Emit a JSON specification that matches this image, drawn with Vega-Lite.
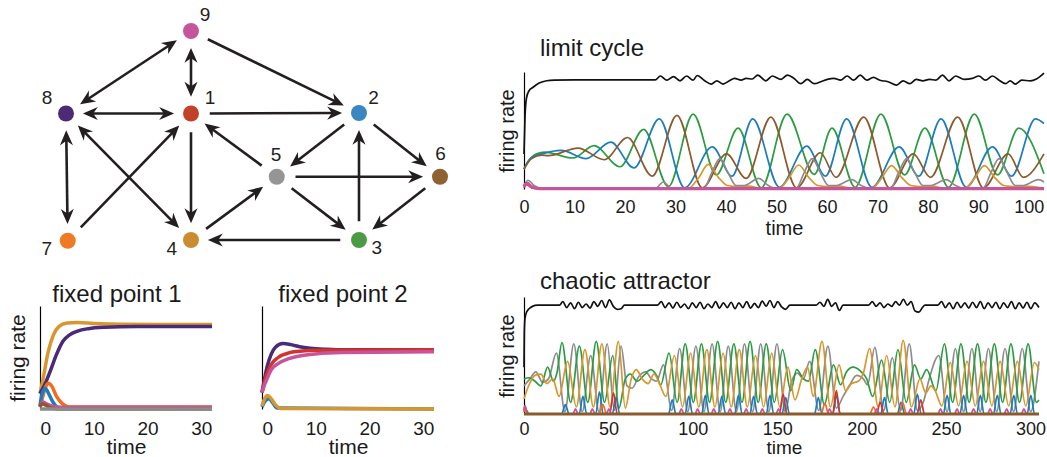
{
"$schema":"https://vega.github.io/schema/vega-lite/v6.json",
"background":"white",
"padding":{"left":6,"top":5,"right":0,"bottom":0},
"config":{"font":"Liberation Sans","view":{"stroke":"transparent"},"title":{"fontWeight":"normal","color":"#1a1a1a","font":"Liberation Sans"},"axis":{"labelFont":"Liberation Sans","titleFont":"Liberation Sans","labelColor":"#1a1a1a","titleColor":"#1a1a1a","titleFontWeight":"normal"}},
"datasets":{
"nodes":[
{"id":"9","gx":1,"gy":0,"lx":1.112,"ly":-0.128},
{"id":"8","gx":0,"gy":0.66,"lx":-0.152,"ly":0.536},
{"id":"1","gx":1,"gy":0.66,"lx":1.152,"ly":0.536},
{"id":"2","gx":2.344,"gy":0.656,"lx":2.46,"ly":0.536},
{"id":"5","gx":1.686,"gy":1.166,"lx":1.68,"ly":0.992},
{"id":"6","gx":2.992,"gy":1.166,"lx":2.997,"ly":0.984},
{"id":"7","gx":0.014,"gy":1.678,"lx":-0.154,"ly":1.746},
{"id":"4","gx":1,"gy":1.672,"lx":0.846,"ly":1.746},
{"id":"3","gx":2.344,"gy":1.672,"lx":2.486,"ly":1.738}],
"edges":[
{"s":"9","e":"8","b":true},{"s":"9","e":"1","b":true},{"s":"8","e":"1","b":true},{"s":"8","e":"7","b":true},{"s":"8","e":"4","b":true},
{"s":"9","e":"2","b":false},{"s":"1","e":"2","b":false},{"s":"1","e":"4","b":false},{"s":"5","e":"1","b":false},{"s":"2","e":"5","b":false},
{"s":"2","e":"6","b":false},{"s":"3","e":"2","b":false},{"s":"5","e":"6","b":false},{"s":"5","e":"3","b":false},{"s":"6","e":"3","b":false},
{"s":"3","e":"4","b":false},{"s":"4","e":"5","b":false},{"s":"7","e":"1","b":false}],
"fp1":[
{"n":"4","t":0,"v":0.15},{"n":"4","t":0.6,"v":0.3},{"n":"4","t":1.5,"v":0.55},{"n":"4","t":2.5,"v":0.72},{"n":"4","t":3.5,"v":0.8},{"n":"4","t":5,"v":0.835},{"n":"4","t":7,"v":0.84},{"n":"4","t":10,"v":0.83},{"n":"4","t":15,"v":0.822},{"n":"4","t":32,"v":0.82},
{"n":"8","t":0,"v":0.15},{"n":"8","t":1,"v":0.25},{"n":"8","t":2,"v":0.38},{"n":"8","t":3,"v":0.52},{"n":"8","t":4.3,"v":0.66},{"n":"8","t":5.5,"v":0.72},{"n":"8","t":7,"v":0.757},{"n":"8","t":9,"v":0.78},{"n":"8","t":12,"v":0.793},{"n":"8","t":18,"v":0.8},{"n":"8","t":32,"v":0.8},
{"n":"7","t":0,"v":0.03},{"n":"7","t":0.5,"v":0.12},{"n":"7","t":1.1,"v":0.22},{"n":"7","t":1.6,"v":0.25},{"n":"7","t":2.2,"v":0.22},{"n":"7","t":3.1,"v":0.12},{"n":"7","t":4.2,"v":0.05},{"n":"7","t":5.5,"v":0.02},{"n":"7","t":32,"v":0.02},
{"n":"2","t":0,"v":0.03},{"n":"2","t":0.4,"v":0.15},{"n":"2","t":1,"v":0.2},{"n":"2","t":1.6,"v":0.15},{"n":"2","t":2.5,"v":0.06},{"n":"2","t":3.5,"v":0.01},{"n":"2","t":32,"v":0.005},
{"n":"9","t":0,"v":0.02},{"n":"9","t":0.5,"v":0.07},{"n":"9","t":1.2,"v":0.05},{"n":"9","t":2.5,"v":0.025},{"n":"9","t":4,"v":0.018},{"n":"9","t":32,"v":0.018},
{"n":"6","t":0,"v":0.02},{"n":"6","t":0.4,"v":0.05},{"n":"6","t":1,"v":0.04},{"n":"6","t":2,"v":0.01},{"n":"6","t":4,"v":0},{"n":"6","t":32,"v":0},
{"n":"5","t":0,"v":0},{"n":"5","t":32,"v":0}],
"fp2":[
{"n":"8","t":0,"v":0.16},{"n":"8","t":0.5,"v":0.3},{"n":"8","t":1,"v":0.42},{"n":"8","t":1.7,"v":0.53},{"n":"8","t":2.5,"v":0.6},{"n":"8","t":3.9,"v":0.635},{"n":"8","t":5.4,"v":0.625},{"n":"8","t":7,"v":0.605},{"n":"8","t":9,"v":0.59},{"n":"8","t":12,"v":0.58},{"n":"8","t":16,"v":0.575},{"n":"8","t":32,"v":0.575},
{"n":"1","t":0,"v":0.16},{"n":"1","t":0.5,"v":0.27},{"n":"1","t":1,"v":0.35},{"n":"1","t":1.7,"v":0.43},{"n":"1","t":3,"v":0.5},{"n":"1","t":5,"v":0.545},{"n":"1","t":7,"v":0.56},{"n":"1","t":10,"v":0.57},{"n":"1","t":32,"v":0.575},
{"n":"9","t":0,"v":0.16},{"n":"9","t":0.5,"v":0.24},{"n":"9","t":1,"v":0.3},{"n":"9","t":1.7,"v":0.38},{"n":"9","t":3,"v":0.44},{"n":"9","t":5,"v":0.49},{"n":"9","t":7,"v":0.515},{"n":"9","t":10,"v":0.535},{"n":"9","t":15,"v":0.548},{"n":"9","t":32,"v":0.555},
{"n":"2","t":0,"v":0.02},{"n":"2","t":0.5,"v":0.07},{"n":"2","t":1.3,"v":0.1},{"n":"2","t":2,"v":0.06},{"n":"2","t":2.8,"v":0.01},{"n":"2","t":32,"v":0},
{"n":"4","t":0,"v":0.03},{"n":"4","t":0.4,"v":0.09},{"n":"4","t":1.05,"v":0.13},{"n":"4","t":1.7,"v":0.1},{"n":"4","t":2.5,"v":0.04},{"n":"4","t":3.5,"v":0.005},{"n":"4","t":32,"v":0}],
"lc":[
{"n":"0","t":0,"v":0.3},{"n":"0","t":0.2,"v":0.62},{"n":"0","t":0.5,"v":0.78},{"n":"0","t":1,"v":0.84},{"n":"0","t":1.8,"v":0.87},{"n":"0","t":3,"v":0.905},{"n":"0","t":4.5,"v":0.925},{"n":"0","t":6,"v":0.93},{"n":"0","t":10,"v":0.932},{"n":"0","t":26,"v":0.932},{"n":"0","t":27,"v":0.966},{"n":"0","t":28.3,"v":0.93},{"n":"0","t":29.6,"v":0.96},{"n":"0","t":30.9,"v":0.925},{"n":"0","t":32.2,"v":0.966},{"n":"0","t":33.5,"v":0.93},{"n":"0","t":34.3,"v":0.97},{"n":"0","t":35.8,"v":0.925},{"n":"0","t":37.1,"v":0.897},{"n":"0","t":38.2,"v":0.925},{"n":"0","t":39.4,"v":0.897},{"n":"0","t":40.7,"v":0.925},{"n":"0","t":41.7,"v":0.945},{"n":"0","t":43,"v":0.93},{"n":"0","t":44,"v":0.945},{"n":"0","t":45.2,"v":0.94},{"n":"0","t":46.3,"v":0.974},{"n":"0","t":47.9,"v":0.925},{"n":"0","t":49.2,"v":0.966},{"n":"0","t":50.9,"v":0.937},{"n":"0","t":52.2,"v":0.974},{"n":"0","t":53.5,"v":0.945},{"n":"0","t":54.8,"v":0.9},{"n":"0","t":56.1,"v":0.937},{"n":"0","t":57.5,"v":0.9},{"n":"0","t":58.8,"v":0.917},{"n":"0","t":60.1,"v":0.937},{"n":"0","t":61.4,"v":0.945},{"n":"0","t":62.7,"v":0.93},{"n":"0","t":64,"v":0.966},{"n":"0","t":65.3,"v":0.93},{"n":"0","t":66.6,"v":0.974},{"n":"0","t":67.9,"v":0.93},{"n":"0","t":69.2,"v":0.954},{"n":"0","t":70.5,"v":0.93},{"n":"0","t":72.1,"v":0.917},{"n":"0","t":73.8,"v":0.888},{"n":"0","t":75.1,"v":0.925},{"n":"0","t":76.4,"v":0.9},{"n":"0","t":77.7,"v":0.937},{"n":"0","t":79,"v":0.925},{"n":"0","t":80.3,"v":0.937},{"n":"0","t":81.6,"v":0.93},{"n":"0","t":82.9,"v":0.974},{"n":"0","t":84.2,"v":0.925},{"n":"0","t":85.5,"v":0.966},{"n":"0","t":87.2,"v":0.937},{"n":"0","t":88.8,"v":0.945},{"n":"0","t":90.1,"v":0.966},{"n":"0","t":91.4,"v":0.93},{"n":"0","t":92.8,"v":0.966},{"n":"0","t":94.1,"v":0.93},{"n":"0","t":95.4,"v":0.9},{"n":"0","t":96.3,"v":0.925},{"n":"0","t":97.3,"v":0.897},{"n":"0","t":98.6,"v":0.93},{"n":"0","t":100.3,"v":0.925},{"n":"0","t":101.5,"v":0.94},{"n":"0","t":103,"v":0.99},
{"n":"3","t":0,"v":0.17},{"n":"3","t":0.7,"v":0.23},{"n":"3","t":1.5,"v":0.27},{"n":"3","t":2.5,"v":0.3},{"n":"3","t":4.1,"v":0.315},{"n":"3","t":9.7,"v":0.265},{"n":"3","t":13.9,"v":0.37},{"n":"3","t":19,"v":0.19},{"n":"3","t":23.7,"v":0.51},{"n":"3","t":28.6,"v":0.02},{"n":"3","t":33.5,"v":0.64},{"n":"3","t":38.1,"v":0.12},{"n":"3","t":42.4,"v":0.52},{"n":"3","t":47,"v":0.01},{"n":"3","t":52.1,"v":0.64},{"n":"3","t":57.5,"v":0.125},{"n":"3","t":61,"v":0.52},{"n":"3","t":65.6,"v":0.015},{"n":"3","t":70.7,"v":0.64},{"n":"3","t":75.4,"v":0.12},{"n":"3","t":79.4,"v":0.52},{"n":"3","t":84.1,"v":0.015},{"n":"3","t":89.2,"v":0.64},{"n":"3","t":93.8,"v":0.12},{"n":"3","t":98,"v":0.52},{"n":"3","t":103,"v":0.13},
{"n":"2","t":0,"v":0.17},{"n":"2","t":0.7,"v":0.23},{"n":"2","t":1.5,"v":0.27},{"n":"2","t":3.5,"v":0.3},{"n":"2","t":7.4,"v":0.33},{"n":"2","t":12.3,"v":0.26},{"n":"2","t":17.2,"v":0.4},{"n":"2","t":21.8,"v":0.18},{"n":"2","t":26.8,"v":0.6},{"n":"2","t":31.8,"v":0.01},{"n":"2","t":37.3,"v":0.36},{"n":"2","t":41.2,"v":0.11},{"n":"2","t":45.3,"v":0.6},{"n":"2","t":50.6,"v":0.015},{"n":"2","t":56,"v":0.366},{"n":"2","t":59.7,"v":0.11},{"n":"2","t":63.9,"v":0.6},{"n":"2","t":68.9,"v":0.015},{"n":"2","t":74.3,"v":0.36},{"n":"2","t":78.2,"v":0.11},{"n":"2","t":82.6,"v":0.6},{"n":"2","t":87.6,"v":0.015},{"n":"2","t":92.8,"v":0.36},{"n":"2","t":96.6,"v":0.11},{"n":"2","t":101.3,"v":0.6},{"n":"2","t":103,"v":0.56},
{"n":"6","t":0,"v":0.17},{"n":"6","t":0.7,"v":0.22},{"n":"6","t":1.5,"v":0.26},{"n":"6","t":3.5,"v":0.29},{"n":"6","t":4.8,"v":0.285},{"n":"6","t":10.7,"v":0.35},{"n":"6","t":15.9,"v":0.25},{"n":"6","t":20.5,"v":0.44},{"n":"6","t":25.4,"v":0.11},{"n":"6","t":30.3,"v":0.63},{"n":"6","t":35.3,"v":0.01},{"n":"6","t":40.1,"v":0.3},{"n":"6","t":44,"v":0.09},{"n":"6","t":48.9,"v":0.615},{"n":"6","t":54,"v":0.01},{"n":"6","t":58.7,"v":0.31},{"n":"6","t":61.8,"v":0.1},{"n":"6","t":67.3,"v":0.615},{"n":"6","t":72.4,"v":0.01},{"n":"6","t":77.1,"v":0.3},{"n":"6","t":80.5,"v":0.1},{"n":"6","t":85.9,"v":0.615},{"n":"6","t":91,"v":0.01},{"n":"6","t":95.9,"v":0.3},{"n":"6","t":98.9,"v":0.1},{"n":"6","t":103,"v":0.3},
{"n":"4","t":0,"v":0.02},{"n":"4","t":0.8,"v":0.045},{"n":"4","t":2,"v":0.01},{"n":"4","t":4,"v":0.003},{"n":"4","t":32.5,"v":0.003},{"n":"4","t":34.5,"v":0.09},{"n":"4","t":36.5,"v":0.21},{"n":"4","t":38.5,"v":0.1},{"n":"4","t":40.3,"v":0.03},{"n":"4","t":42.5,"v":0.02},{"n":"4","t":44.5,"v":0.025},{"n":"4","t":47,"v":0.005},{"n":"4","t":50.4,"v":0.003},{"n":"4","t":52.4,"v":0.09},{"n":"4","t":54.4,"v":0.205},{"n":"4","t":56.4,"v":0.1},{"n":"4","t":58.2,"v":0.03},{"n":"4","t":60.4,"v":0.02},{"n":"4","t":62.4,"v":0.025},{"n":"4","t":65,"v":0.005},{"n":"4","t":68.8,"v":0.003},{"n":"4","t":70.8,"v":0.09},{"n":"4","t":72.8,"v":0.2},{"n":"4","t":74.8,"v":0.1},{"n":"4","t":76.6,"v":0.03},{"n":"4","t":78.8,"v":0.02},{"n":"4","t":80.8,"v":0.025},{"n":"4","t":83.4,"v":0.005},{"n":"4","t":87.2,"v":0.003},{"n":"4","t":89.2,"v":0.09},{"n":"4","t":91.2,"v":0.2},{"n":"4","t":93.2,"v":0.1},{"n":"4","t":95,"v":0.03},{"n":"4","t":97.2,"v":0.02},{"n":"4","t":99.2,"v":0.025},{"n":"4","t":103,"v":0.005},
{"n":"5","t":0,"v":0.03},{"n":"5","t":0.8,"v":0.075},{"n":"5","t":2,"v":0.03},{"n":"5","t":3.5,"v":0.005},{"n":"5","t":26,"v":0.003},{"n":"5","t":27.6,"v":0.06},{"n":"5","t":29.3,"v":0.005},{"n":"5","t":35.6,"v":0.005},{"n":"5","t":37.2,"v":0.14},{"n":"5","t":38.8,"v":0.26},{"n":"5","t":40.4,"v":0.14},{"n":"5","t":42,"v":0.03},{"n":"5","t":43.6,"v":0.03},{"n":"5","t":46.5,"v":0.09},{"n":"5","t":48.4,"v":0.03},{"n":"5","t":50,"v":0.005},{"n":"5","t":53.9,"v":0.005},{"n":"5","t":55.5,"v":0.14},{"n":"5","t":57.1,"v":0.26},{"n":"5","t":58.7,"v":0.14},{"n":"5","t":60.3,"v":0.03},{"n":"5","t":61.9,"v":0.03},{"n":"5","t":64.9,"v":0.08},{"n":"5","t":66.8,"v":0.03},{"n":"5","t":68.4,"v":0.005},{"n":"5","t":72.6,"v":0.005},{"n":"5","t":74.2,"v":0.14},{"n":"5","t":75.8,"v":0.26},{"n":"5","t":77.4,"v":0.14},{"n":"5","t":79,"v":0.03},{"n":"5","t":80.6,"v":0.03},{"n":"5","t":83.6,"v":0.08},{"n":"5","t":85.5,"v":0.03},{"n":"5","t":87.1,"v":0.005},{"n":"5","t":90.9,"v":0.005},{"n":"5","t":92.5,"v":0.14},{"n":"5","t":94.1,"v":0.26},{"n":"5","t":95.7,"v":0.14},{"n":"5","t":97.3,"v":0.03},{"n":"5","t":98.9,"v":0.03},{"n":"5","t":101.9,"v":0.08},{"n":"5","t":103,"v":0.06},
{"n":"1","t":0,"v":0.01},{"n":"1","t":0.5,"v":0.04},{"n":"1","t":1.5,"v":0.01},{"n":"1","t":3,"v":0.002},{"n":"1","t":103,"v":0.002},
{"n":"9","t":0,"v":0.02},{"n":"9","t":0.6,"v":0.05},{"n":"9","t":1.5,"v":0.02},{"n":"9","t":3,"v":0.004},{"n":"9","t":103,"v":0.004}],
"ch":[
{"n":"0","t":0,"v":0.4},{"n":"0","t":0.2,"v":0.7},{"n":"0","t":0.6,"v":0.82},{"n":"0","t":1.5,"v":0.87},{"n":"0","t":3,"v":0.9},{"n":"0","t":5,"v":0.92},{"n":"0","t":8,"v":0.93},{"n":"0","t":21,"v":0.93},
{"n":"0","t":23,"v":0.96},{"n":"0","t":25.3,"v":0.91},{"n":"0","t":27.6,"v":0.95},{"n":"0","t":29.9,"v":0.9},{"n":"0","t":32.2,"v":0.955},{"n":"0","t":34.5,"v":0.91},{"n":"0","t":36.8,"v":0.94},{"n":"0","t":39.1,"v":0.905},{"n":"0","t":41.4,"v":0.96},{"n":"0","t":43.7,"v":0.92},{"n":"0","t":46,"v":0.97},{"n":"0","t":48.3,"v":0.91},{"n":"0","t":50.6,"v":0.975},{"n":"0","t":52.9,"v":0.92},{"n":"0","t":55.2,"v":0.895},{"n":"0","t":57.5,"v":0.9},{"n":"0","t":59.5,"v":0.93},{"n":"0","t":79,"v":0.93},
{"n":"0","t":81.3,"v":0.96},{"n":"0","t":83.6,"v":0.91},{"n":"0","t":85.9,"v":0.95},{"n":"0","t":88.2,"v":0.905},{"n":"0","t":90.5,"v":0.955},{"n":"0","t":92.8,"v":0.91},{"n":"0","t":95.1,"v":0.94},{"n":"0","t":97.4,"v":0.9},{"n":"0","t":99.7,"v":0.95},{"n":"0","t":102,"v":0.91},{"n":"0","t":104.3,"v":0.955},{"n":"0","t":106.6,"v":0.9},{"n":"0","t":108.9,"v":0.94},{"n":"0","t":111.2,"v":0.91},{"n":"0","t":113.5,"v":0.96},{"n":"0","t":115.8,"v":0.905},{"n":"0","t":118.1,"v":0.95},{"n":"0","t":120.4,"v":0.91},{"n":"0","t":122.7,"v":0.955},{"n":"0","t":125,"v":0.9},{"n":"0","t":127.3,"v":0.95},{"n":"0","t":129.6,"v":0.91},{"n":"0","t":131.9,"v":0.96},{"n":"0","t":134.2,"v":0.905},{"n":"0","t":136.5,"v":0.945},{"n":"0","t":138.8,"v":0.91},{"n":"0","t":141.1,"v":0.965},{"n":"0","t":143.4,"v":0.92},{"n":"0","t":145.7,"v":0.97},{"n":"0","t":148,"v":0.91},{"n":"0","t":150.3,"v":0.96},{"n":"0","t":152.6,"v":0.915},{"n":"0","t":154.9,"v":0.895},{"n":"0","t":157.5,"v":0.93},{"n":"0","t":173,"v":0.93},
{"n":"0","t":175.3,"v":0.955},{"n":"0","t":177.6,"v":0.92},{"n":"0","t":179.9,"v":0.98},{"n":"0","t":182.2,"v":0.92},{"n":"0","t":184.5,"v":0.95},{"n":"0","t":186.8,"v":0.885},{"n":"0","t":189,"v":0.93},{"n":"0","t":204,"v":0.93},
{"n":"0","t":206.3,"v":0.96},{"n":"0","t":208.6,"v":0.92},{"n":"0","t":210.9,"v":0.95},{"n":"0","t":213.2,"v":0.91},{"n":"0","t":215.5,"v":0.94},{"n":"0","t":217.8,"v":0.92},{"n":"0","t":220.1,"v":0.96},{"n":"0","t":222.4,"v":0.93},{"n":"0","t":224.7,"v":0.98},{"n":"0","t":227,"v":0.93},{"n":"0","t":229.3,"v":0.96},{"n":"0","t":231.6,"v":0.88},{"n":"0","t":233.9,"v":0.87},{"n":"0","t":236,"v":0.91},{"n":"0","t":237.5,"v":0.93},{"n":"0","t":245,"v":0.93},
{"n":"0","t":247.3,"v":0.96},{"n":"0","t":249.6,"v":0.91},{"n":"0","t":251.9,"v":0.95},{"n":"0","t":254.2,"v":0.9},{"n":"0","t":256.5,"v":0.955},{"n":"0","t":258.8,"v":0.91},{"n":"0","t":261.1,"v":0.95},{"n":"0","t":263.4,"v":0.905},{"n":"0","t":265.7,"v":0.955},{"n":"0","t":268,"v":0.91},{"n":"0","t":270.3,"v":0.96},{"n":"0","t":272.6,"v":0.9},{"n":"0","t":274.9,"v":0.95},{"n":"0","t":277.2,"v":0.91},{"n":"0","t":279.5,"v":0.955},{"n":"0","t":281.8,"v":0.9},{"n":"0","t":284.1,"v":0.95},{"n":"0","t":286.4,"v":0.91},{"n":"0","t":288.7,"v":0.96},{"n":"0","t":291,"v":0.9},{"n":"0","t":293.3,"v":0.95},{"n":"0","t":295.6,"v":0.905},{"n":"0","t":297.9,"v":0.955},{"n":"0","t":300.2,"v":0.9},{"n":"0","t":302.5,"v":0.95},{"n":"0","t":305,"v":0.91},
{"n":"5","t":0,"v":0.24},{"n":"5","t":3.5,"v":0.3},{"n":"5","t":7,"v":0.36},{"n":"5","t":11,"v":0.27},{"n":"5","t":14.5,"v":0.3},{"n":"5","t":19.2,"v":0.52},{"n":"5","t":24.2,"v":0.02},{"n":"5","t":29.5,"v":0.6},{"n":"5","t":34.5,"v":0.02},{"n":"5","t":39.5,"v":0.5},{"n":"5","t":44.4,"v":0.02},{"n":"5","t":49.3,"v":0.6},{"n":"5","t":53.5,"v":0.03},{"n":"5","t":57.5,"v":0.58},{"n":"5","t":61,"v":0.24},{"n":"5","t":64,"v":0.22},{"n":"5","t":68,"v":0.32},{"n":"5","t":72,"v":0.36},{"n":"5","t":75.5,"v":0.3},{"n":"5","t":78.5,"v":0.28},{"n":"5","t":82.6,"v":0.42},{"n":"5","t":87.4,"v":0.03},{"n":"5","t":92.2,"v":0.56},{"n":"5","t":97,"v":0.02},{"n":"5","t":101.8,"v":0.58},{"n":"5","t":106.6,"v":0.02},{"n":"5","t":111.4,"v":0.6},{"n":"5","t":116.2,"v":0.02},{"n":"5","t":121,"v":0.58},{"n":"5","t":125.8,"v":0.02},{"n":"5","t":130.6,"v":0.6},{"n":"5","t":135.4,"v":0.02},{"n":"5","t":140.2,"v":0.6},{"n":"5","t":145,"v":0.02},{"n":"5","t":149.8,"v":0.6},{"n":"5","t":154.7,"v":0.02},{"n":"5","t":158.5,"v":0.28},{"n":"5","t":162,"v":0.35},{"n":"5","t":165.5,"v":0.3},{"n":"5","t":169.2,"v":0.45},{"n":"5","t":174.6,"v":0.03},{"n":"5","t":180,"v":0.58},{"n":"5","t":185,"v":0.05},{"n":"5","t":189,"v":0.15},{"n":"5","t":193,"v":0.25},{"n":"5","t":197,"v":0.33},{"n":"5","t":201,"v":0.3},{"n":"5","t":203.5,"v":0.25},{"n":"5","t":207.8,"v":0.57},{"n":"5","t":213,"v":0.03},{"n":"5","t":218.2,"v":0.48},{"n":"5","t":223,"v":0.03},{"n":"5","t":228.2,"v":0.6},{"n":"5","t":233,"v":0.03},{"n":"5","t":236.5,"v":0.1},{"n":"5","t":240,"v":0.3},{"n":"5","t":245.7,"v":0.5},{"n":"5","t":250.6,"v":0.02},{"n":"5","t":255.5,"v":0.56},{"n":"5","t":260.4,"v":0.02},{"n":"5","t":265.3,"v":0.56},{"n":"5","t":270.2,"v":0.02},{"n":"5","t":275.1,"v":0.56},{"n":"5","t":280,"v":0.02},{"n":"5","t":284.9,"v":0.56},{"n":"5","t":290,"v":0.02},{"n":"5","t":295.1,"v":0.56},{"n":"5","t":300.1,"v":0.02},{"n":"5","t":305,"v":0.45},
{"n":"3","t":0,"v":0.3},{"n":"3","t":3,"v":0.31},{"n":"3","t":6.5,"v":0.28},{"n":"3","t":10,"v":0.24},{"n":"3","t":14,"v":0.4},{"n":"3","t":17.5,"v":0.28},{"n":"3","t":19.5,"v":0.35},{"n":"3","t":22.5,"v":0.61},{"n":"3","t":27.6,"v":0.1},{"n":"3","t":32.8,"v":0.58},{"n":"3","t":37.8,"v":0.1},{"n":"3","t":42.8,"v":0.62},{"n":"3","t":47.7,"v":0.1},{"n":"3","t":52.6,"v":0.5},{"n":"3","t":56.2,"v":0.05},{"n":"3","t":60,"v":0.3},{"n":"3","t":63,"v":0.34},{"n":"3","t":67,"v":0.28},{"n":"3","t":71,"v":0.33},{"n":"3","t":75,"v":0.38},{"n":"3","t":78.5,"v":0.33},{"n":"3","t":81,"v":0.25},{"n":"3","t":85.9,"v":0.52},{"n":"3","t":90.7,"v":0.1},{"n":"3","t":95.5,"v":0.6},{"n":"3","t":100.3,"v":0.1},{"n":"3","t":105.1,"v":0.6},{"n":"3","t":109.9,"v":0.1},{"n":"3","t":114.7,"v":0.62},{"n":"3","t":119.5,"v":0.1},{"n":"3","t":124.3,"v":0.6},{"n":"3","t":129.1,"v":0.1},{"n":"3","t":133.9,"v":0.62},{"n":"3","t":138.7,"v":0.1},{"n":"3","t":143.5,"v":0.6},{"n":"3","t":148.3,"v":0.1},{"n":"3","t":153.1,"v":0.55},{"n":"3","t":158,"v":0.2},{"n":"3","t":161.5,"v":0.38},{"n":"3","t":165.5,"v":0.3},{"n":"3","t":168.5,"v":0.28},{"n":"3","t":172.5,"v":0.55},{"n":"3","t":177.9,"v":0.08},{"n":"3","t":183.3,"v":0.42},{"n":"3","t":187.5,"v":0.25},{"n":"3","t":191,"v":0.36},{"n":"3","t":195,"v":0.4},{"n":"3","t":199,"v":0.37},{"n":"3","t":203,"v":0.3},{"n":"3","t":206.5,"v":0.15},{"n":"3","t":211.8,"v":0.46},{"n":"3","t":216.6,"v":0.1},{"n":"3","t":221.5,"v":0.55},{"n":"3","t":226.4,"v":0.1},{"n":"3","t":231.3,"v":0.42},{"n":"3","t":235,"v":0.3},{"n":"3","t":238.5,"v":0.38},{"n":"3","t":244,"v":0.2},{"n":"3","t":249,"v":0.6},{"n":"3","t":253.9,"v":0.1},{"n":"3","t":258.8,"v":0.6},{"n":"3","t":263.7,"v":0.1},{"n":"3","t":268.6,"v":0.6},{"n":"3","t":273.6,"v":0.1},{"n":"3","t":278.6,"v":0.6},{"n":"3","t":283.5,"v":0.1},{"n":"3","t":288.4,"v":0.6},{"n":"3","t":293.5,"v":0.1},{"n":"3","t":298.6,"v":0.6},{"n":"3","t":303.5,"v":0.1},{"n":"3","t":305,"v":0.12},
{"n":"4","t":0,"v":0.13},{"n":"4","t":3,"v":0.25},{"n":"4","t":6.5,"v":0.33},{"n":"4","t":10,"v":0.34},{"n":"4","t":13.5,"v":0.26},{"n":"4","t":17,"v":0.3},{"n":"4","t":20.8,"v":0.15},{"n":"4","t":25.8,"v":0.45},{"n":"4","t":31,"v":0.06},{"n":"4","t":36.1,"v":0.55},{"n":"4","t":41.1,"v":0.06},{"n":"4","t":46.1,"v":0.6},{"n":"4","t":51,"v":0.06},{"n":"4","t":55.9,"v":0.62},{"n":"4","t":60,"v":0.05},{"n":"4","t":63.5,"v":0.3},{"n":"4","t":66.5,"v":0.38},{"n":"4","t":70,"v":0.3},{"n":"4","t":73.5,"v":0.26},{"n":"4","t":77,"v":0.34},{"n":"4","t":80.5,"v":0.25},{"n":"4","t":84,"v":0.15},{"n":"4","t":89.1,"v":0.5},{"n":"4","t":93.9,"v":0.06},{"n":"4","t":98.7,"v":0.52},{"n":"4","t":103.5,"v":0.06},{"n":"4","t":108.3,"v":0.55},{"n":"4","t":113.1,"v":0.06},{"n":"4","t":117.9,"v":0.52},{"n":"4","t":122.7,"v":0.06},{"n":"4","t":127.5,"v":0.55},{"n":"4","t":132.3,"v":0.06},{"n":"4","t":137.1,"v":0.5},{"n":"4","t":141.9,"v":0.06},{"n":"4","t":146.7,"v":0.52},{"n":"4","t":151.5,"v":0.06},{"n":"4","t":156.3,"v":0.4},{"n":"4","t":160.5,"v":0.12},{"n":"4","t":164.5,"v":0.3},{"n":"4","t":168,"v":0.4},{"n":"4","t":171.3,"v":0.15},{"n":"4","t":176.5,"v":0.62},{"n":"4","t":181.5,"v":0.06},{"n":"4","t":186.6,"v":0.42},{"n":"4","t":190.5,"v":0.2},{"n":"4","t":194,"v":0.26},{"n":"4","t":198,"v":0.28},{"n":"4","t":201,"v":0.35},{"n":"4","t":204.7,"v":0.56},{"n":"4","t":209.8,"v":0.06},{"n":"4","t":214.8,"v":0.5},{"n":"4","t":219.7,"v":0.06},{"n":"4","t":224.6,"v":0.63},{"n":"4","t":229.5,"v":0.06},{"n":"4","t":234.5,"v":0.3},{"n":"4","t":238,"v":0.18},{"n":"4","t":241,"v":0.24},{"n":"4","t":243.5,"v":0.2},{"n":"4","t":247.5,"v":0.07},{"n":"4","t":252.5,"v":0.44},{"n":"4","t":257.4,"v":0.07},{"n":"4","t":262.4,"v":0.45},{"n":"4","t":267.3,"v":0.07},{"n":"4","t":272.2,"v":0.45},{"n":"4","t":277.1,"v":0.07},{"n":"4","t":282,"v":0.45},{"n":"4","t":287.1,"v":0.07},{"n":"4","t":292.2,"v":0.45},{"n":"4","t":297.2,"v":0.07},{"n":"4","t":302.3,"v":0.44},{"n":"4","t":305,"v":0.38},
{"n":"2","t":0,"v":0.02},{"n":"2","t":1,"v":0.04},{"n":"2","t":3,"v":0},
{"n":"2","t":22.3,"v":0},{"n":"2","t":24.5,"v":0.08},{"n":"2","t":26.7,"v":0},{"n":"2","t":32.7,"v":0},{"n":"2","t":34.9,"v":0.15},{"n":"2","t":37.1,"v":0},{"n":"2","t":42.5,"v":0},{"n":"2","t":44.7,"v":0.19},{"n":"2","t":46.9,"v":0},{"n":"2","t":52.3,"v":0},{"n":"2","t":54.5,"v":0.14},{"n":"2","t":56.7,"v":0},
{"n":"2","t":85.6,"v":0},{"n":"2","t":87.8,"v":0.12},{"n":"2","t":90,"v":0},{"n":"2","t":95.4,"v":0},{"n":"2","t":97.6,"v":0.15},{"n":"2","t":99.8,"v":0},{"n":"2","t":105.2,"v":0},{"n":"2","t":107.4,"v":0.16},{"n":"2","t":109.6,"v":0},{"n":"2","t":115,"v":0},{"n":"2","t":117.2,"v":0.15},{"n":"2","t":119.4,"v":0},{"n":"2","t":124.8,"v":0},{"n":"2","t":127,"v":0.16},{"n":"2","t":129.2,"v":0},{"n":"2","t":133.8,"v":0},{"n":"2","t":136,"v":0.15},{"n":"2","t":138.2,"v":0},{"n":"2","t":143.5,"v":0},{"n":"2","t":145.7,"v":0.16},{"n":"2","t":147.9,"v":0},{"n":"2","t":152.8,"v":0},{"n":"2","t":155,"v":0.14},{"n":"2","t":157.2,"v":0},
{"n":"2","t":172.1,"v":0},{"n":"2","t":174.3,"v":0.14},{"n":"2","t":176.5,"v":0},{"n":"2","t":182.9,"v":0},{"n":"2","t":185.1,"v":0.16},{"n":"2","t":187.3,"v":0},
{"n":"2","t":211.3,"v":0},{"n":"2","t":213.5,"v":0.14},{"n":"2","t":215.7,"v":0},{"n":"2","t":221.1,"v":0},{"n":"2","t":223.3,"v":0.1},{"n":"2","t":225.5,"v":0},{"n":"2","t":230.8,"v":0},{"n":"2","t":233,"v":0.17},{"n":"2","t":235.2,"v":0},
{"n":"2","t":248.4,"v":0},{"n":"2","t":250.6,"v":0.16},{"n":"2","t":252.8,"v":0},{"n":"2","t":258.2,"v":0},{"n":"2","t":260.4,"v":0.16},{"n":"2","t":262.6,"v":0},{"n":"2","t":268.1,"v":0},{"n":"2","t":270.3,"v":0.16},{"n":"2","t":272.5,"v":0},{"n":"2","t":278.1,"v":0},{"n":"2","t":280.3,"v":0.16},{"n":"2","t":282.5,"v":0},{"n":"2","t":287.9,"v":0},{"n":"2","t":290.1,"v":0.16},{"n":"2","t":292.3,"v":0},{"n":"2","t":298,"v":0},{"n":"2","t":300.2,"v":0.16},{"n":"2","t":302.4,"v":0},{"n":"2","t":305,"v":0},
{"n":"1","t":0,"v":0.03},{"n":"1","t":0.6,"v":0.07},{"n":"1","t":2,"v":0},{"n":"1","t":50.8,"v":0},{"n":"1","t":53,"v":0.18},{"n":"1","t":55.2,"v":0},{"n":"1","t":151.3,"v":0},{"n":"1","t":153.5,"v":0.17},{"n":"1","t":155.7,"v":0},{"n":"1","t":182.8,"v":0},{"n":"1","t":185,"v":0.2},{"n":"1","t":187.2,"v":0},{"n":"1","t":208.8,"v":0},{"n":"1","t":211,"v":0.1},{"n":"1","t":213.2,"v":0},{"n":"1","t":232.8,"v":0},{"n":"1","t":235,"v":0.12},{"n":"1","t":237.2,"v":0},{"n":"1","t":305,"v":0},
{"n":"7","t":0,"v":0.02},{"n":"7","t":0.5,"v":0.05},{"n":"7","t":2,"v":0},{"n":"7","t":44.5,"v":0},{"n":"7","t":46.7,"v":0.08},{"n":"7","t":48.9,"v":0},{"n":"7","t":176,"v":0},{"n":"7","t":178.2,"v":0.09},{"n":"7","t":180.4,"v":0},{"n":"7","t":204.8,"v":0},{"n":"7","t":207,"v":0.06},{"n":"7","t":209.2,"v":0},{"n":"7","t":222.1,"v":0},{"n":"7","t":224.3,"v":0.1},{"n":"7","t":226.5,"v":0},{"n":"7","t":305,"v":0},
{"n":"9","t":0,"v":0.04},{"n":"9","t":0.5,"v":0.07},{"n":"9","t":2,"v":0},
{"n":"9","t":29,"v":0},{"n":"9","t":30.5,"v":0.045},{"n":"9","t":32,"v":0},{"n":"9","t":39,"v":0},{"n":"9","t":40.5,"v":0.045},{"n":"9","t":42,"v":0},{"n":"9","t":48.8,"v":0},{"n":"9","t":50.3,"v":0.045},{"n":"9","t":51.8,"v":0},
{"n":"9","t":91.7,"v":0},{"n":"9","t":93.2,"v":0.045},{"n":"9","t":94.7,"v":0},{"n":"9","t":101.3,"v":0},{"n":"9","t":102.8,"v":0.045},{"n":"9","t":104.3,"v":0},{"n":"9","t":110.9,"v":0},{"n":"9","t":112.4,"v":0.045},{"n":"9","t":113.9,"v":0},{"n":"9","t":120.5,"v":0},{"n":"9","t":122,"v":0.045},{"n":"9","t":123.5,"v":0},{"n":"9","t":130.1,"v":0},{"n":"9","t":131.6,"v":0.045},{"n":"9","t":133.1,"v":0},{"n":"9","t":139.7,"v":0},{"n":"9","t":141.2,"v":0.045},{"n":"9","t":142.7,"v":0},{"n":"9","t":149.3,"v":0},{"n":"9","t":150.8,"v":0.045},{"n":"9","t":152.3,"v":0},
{"n":"9","t":179.5,"v":0},{"n":"9","t":181,"v":0.045},{"n":"9","t":182.5,"v":0},{"n":"9","t":207.5,"v":0},{"n":"9","t":209,"v":0.045},{"n":"9","t":210.5,"v":0},{"n":"9","t":227.5,"v":0},{"n":"9","t":229,"v":0.045},{"n":"9","t":230.5,"v":0},
{"n":"9","t":245.2,"v":0},{"n":"9","t":246.7,"v":0.045},{"n":"9","t":248.2,"v":0},{"n":"9","t":255,"v":0},{"n":"9","t":256.5,"v":0.045},{"n":"9","t":258,"v":0},{"n":"9","t":264.8,"v":0},{"n":"9","t":266.3,"v":0.045},{"n":"9","t":267.8,"v":0},{"n":"9","t":274.6,"v":0},{"n":"9","t":276.1,"v":0.045},{"n":"9","t":277.6,"v":0},{"n":"9","t":284.4,"v":0},{"n":"9","t":285.9,"v":0.045},{"n":"9","t":287.4,"v":0},{"n":"9","t":294.6,"v":0},{"n":"9","t":296.1,"v":0.045},{"n":"9","t":297.6,"v":0},{"n":"9","t":305,"v":0},
{"n":"6","t":0,"v":0},{"n":"6","t":305,"v":0}]
},
"spacing":37,
"hconcat":[
{"spacing":22,"vconcat":[
{"width":418,"height":187,
"layer":[
{"data":{"name":"edges"},
"transform":[
{"lookup":"s","from":{"data":{"name":"nodes"},"key":"id","fields":["gx","gy"]},"as":["fx","fy"]},
{"lookup":"e","from":{"data":{"name":"nodes"},"key":"id","fields":["gx","gy"]},"as":["tx","ty"]},
{"calculate":"sqrt((datum.tx-datum.fx)*(datum.tx-datum.fx)+(datum.ty-datum.fy)*(datum.ty-datum.fy))","as":"L"},
{"calculate":"(datum.tx-datum.fx)/datum.L","as":"ux"},
{"calculate":"(datum.ty-datum.fy)/datum.L","as":"uy"},
{"calculate":"datum.b ? 0.185 : 0.15","as":"a"},
{"calculate":"datum.fx+datum.ux*datum.a","as":"lx1"},
{"calculate":"datum.fy+datum.uy*datum.a","as":"ly1"},
{"calculate":"datum.tx-datum.ux*0.185","as":"lx2"},
{"calculate":"datum.ty-datum.uy*0.185","as":"ly2"},
{"calculate":"datum.tx-datum.ux*0.135","as":"hx"},
{"calculate":"datum.ty-datum.uy*0.135","as":"hy"},
{"calculate":"datum.fx+datum.ux*0.135","as":"sx"},
{"calculate":"datum.fy+datum.uy*0.135","as":"sy"},
{"calculate":"atan2(datum.ux,-datum.uy)*180/PI","as":"ang"},
{"calculate":"datum.ang+180","as":"ang2"}],
"layer":[
{"mark":{"type":"rule","strokeWidth":2.6,"color":"#231f20"},
"encoding":{"x":{"field":"lx1","type":"quantitative","scale":{"domain":[-0.208,3.136],"nice":false,"zero":false},"axis":null},
"y":{"field":"ly1","type":"quantitative","scale":{"domain":[0.328,1.824],"nice":false,"zero":false,"reverse":true},"axis":null},
"x2":{"field":"lx2"},"y2":{"field":"ly2"}}},
{"mark":{"type":"point","shape":"M0,0L0.7,1.6L0,1.1L-0.7,1.6Z","filled":true,"size":350,"color":"#231f20","opacity":1},
"encoding":{"x":{"field":"hx","type":"quantitative","scale":{"domain":[-0.208,3.136],"nice":false,"zero":false},"axis":null},
"y":{"field":"hy","type":"quantitative","scale":{"domain":[0.328,1.824],"nice":false,"zero":false,"reverse":true},"axis":null},
"angle":{"field":"ang","type":"quantitative","scale":null}}},
{"transform":[{"filter":"datum.b"}],
"mark":{"type":"point","shape":"M0,0L0.7,1.6L0,1.1L-0.7,1.6Z","filled":true,"size":350,"color":"#231f20","opacity":1},
"encoding":{"x":{"field":"sx","type":"quantitative","scale":{"domain":[-0.208,3.136],"nice":false,"zero":false},"axis":null},
"y":{"field":"sy","type":"quantitative","scale":{"domain":[0.328,1.824],"nice":false,"zero":false,"reverse":true},"axis":null},
"angle":{"field":"ang2","type":"quantitative","scale":null}}}
]},
{"data":{"name":"nodes"},"mark":{"type":"circle","size":255,"opacity":1},
"encoding":{"x":{"field":"gx","type":"quantitative","scale":{"domain":[-0.208,3.136],"nice":false,"zero":false},"axis":null},
"y":{"field":"gy","type":"quantitative","scale":{"domain":[0.328,1.824],"nice":false,"zero":false,"reverse":true},"axis":null},
"fill":{"field":"id","type":"nominal","scale":{"domain":["1","2","3","4","5","6","7","8","9"],"range":["#c2412b","#3a86c0","#4b9b45","#ca8c2f","#959595","#8e6233","#f07926","#4c2a75","#c6549c"]},"legend":null}}},
{"data":{"name":"nodes"},"mark":{"type":"text","fontSize":19,"color":"#231f20","align":"center","baseline":"middle"},
"encoding":{"x":{"field":"lx","type":"quantitative","scale":{"domain":[-0.208,3.136],"nice":false,"zero":false},"axis":null},
"y":{"field":"ly","type":"quantitative","scale":{"domain":[0.328,1.824],"nice":false,"zero":false,"reverse":true},"axis":null},
"text":{"field":"id","type":"nominal"}}}
]},
{"spacing":34,"hconcat":[
{"width":172,"height":103,
"title":{"text":"fixed point 1","anchor":"middle","frame":"group","fontSize":24,"offset":-25,"dx":-9,"baseline":"bottom"},
"data":{"name":"fp1"},
"mark":{"type":"line","interpolate":"monotone","strokeWidth":3.5},
"encoding":{
"x":{"field":"t","type":"quantitative","scale":{"domain":[0,32],"nice":false,"zero":false},"axis":{"values":[0,10,20,30],"domain":false,"ticks":false,"grid":false,"labelFontSize":19,"labelPadding":10,"title":"time","titleFontSize":21,"titlePadding":-2}},
"y":{"field":"v","type":"quantitative","scale":{"domain":[0,1],"nice":false,"zero":false},"axis":{"domain":true,"domainColor":"#000000","domainWidth":1.2,"ticks":false,"labels":false,"grid":false,"title":"firing rate","titleFontSize":21,"titlePadding":11.6}},
"color":{"field":"n","type":"nominal","scale":{"domain":["0","1","2","3","4","5","6","7","8","9"],"range":["#111111","#d2342c","#1b7dbd","#2b9c41","#d8962d","#8c8c8c","#8c5a2c","#f26b21","#4a2a7b","#c8549c"]},"legend":null}}},
{"width":172,"height":103,
"title":{"text":"fixed point 2","anchor":"middle","frame":"group","fontSize":24,"offset":-25,"dx":-5,"baseline":"bottom"},
"data":{"name":"fp2"},
"mark":{"type":"line","interpolate":"monotone","strokeWidth":3.5},
"encoding":{
"x":{"field":"t","type":"quantitative","scale":{"domain":[0,32],"nice":false,"zero":false},"axis":{"values":[0,10,20,30],"domain":false,"ticks":false,"grid":false,"labelFontSize":19,"labelPadding":10,"title":"time","titleFontSize":21,"titlePadding":-2}},
"y":{"field":"v","type":"quantitative","scale":{"domain":[0,1],"nice":false,"zero":false},"axis":{"domain":true,"domainColor":"#000000","domainWidth":1.2,"ticks":false,"labels":false,"grid":false,"title":null}},
"color":{"field":"n","type":"nominal","scale":{"domain":["0","1","2","3","4","5","6","7","8","9"],"range":["#111111","#d2342c","#1b7dbd","#2b9c41","#e29d2a","#8c8c8c","#8c5a2c","#f26b21","#4a2a7b","#c8549c"]},"legend":null}}}
]}
]},
{"spacing":30,"vconcat":[
{"width":520,"height":117,
"title":{"text":"limit cycle","anchor":"start","frame":"group","fontSize":24,"offset":-15,"dx":16,"baseline":"bottom"},
"data":{"name":"lc"},
"encoding":{
"x":{"field":"t","type":"quantitative","scale":{"domain":[0,103],"nice":false,"zero":false},"axis":{"values":[0,10,20,30,40,50,60,70,80,90,100],"domain":false,"ticks":false,"grid":false,"labelFontSize":18,"labelPadding":9,"labelFlush":false,"labelOverlap":false,"title":"time","titleFontSize":20,"titlePadding":2}},
"y":{"field":"v","type":"quantitative","scale":{"domain":[0,1],"nice":false,"zero":false},"axis":{"domain":true,"domainColor":"#000000","domainWidth":1.2,"ticks":false,"labels":false,"grid":false,"title":"firing rate","titleFontSize":20,"titlePadding":7}},
"color":{"field":"n","type":"nominal","scale":{"domain":["0","1","2","3","4","5","6","7","8","9"],"range":["#111111","#d2342c","#1b7dbd","#2b9c41","#d8962d","#8c8c8c","#8c5a2c","#f26b21","#4a2a7b","#c8549c"]},"legend":null}},
"layer":[
{"mark":{"type":"line","interpolate":"monotone","strokeWidth":1.7}},
{"transform":[{"filter":"datum.n == '9'"}],"mark":{"type":"line","interpolate":"monotone","strokeWidth":3.2}}
]},
{"width":520,"height":117,
"title":{"text":"chaotic attractor","anchor":"start","frame":"group","fontSize":24,"offset":-22,"dx":16,"baseline":"bottom"},
"data":{"name":"ch"},
"encoding":{
"x":{"field":"t","type":"quantitative","scale":{"domain":[0,308],"nice":false,"zero":false},"axis":{"values":[0,50,100,150,200,250,300],"domain":false,"ticks":false,"grid":false,"labelFontSize":18,"labelPadding":6,"labelFlush":false,"labelOverlap":false,"title":"time","titleFontSize":19,"titlePadding":0}},
"y":{"field":"v","type":"quantitative","scale":{"domain":[0,1],"nice":false,"zero":false},"axis":{"domain":true,"domainColor":"#000000","domainWidth":1.2,"ticks":false,"labels":false,"grid":false,"title":"firing rate","titleFontSize":20,"titlePadding":7}},
"color":{"field":"n","type":"nominal","scale":{"domain":["0","1","2","3","4","5","6","7","8","9"],"range":["#111111","#d2342c","#1b7dbd","#2b9c41","#d8962d","#8c8c8c","#8c5a2c","#f26b21","#4a2a7b","#c8549c"]},"legend":null}},
"layer":[
{"mark":{"type":"line","interpolate":"monotone","strokeWidth":1.7}},
{"transform":[{"filter":"datum.n == '6'"}],"mark":{"type":"line","interpolate":"monotone","strokeWidth":3}}
]}
]}
]
}
